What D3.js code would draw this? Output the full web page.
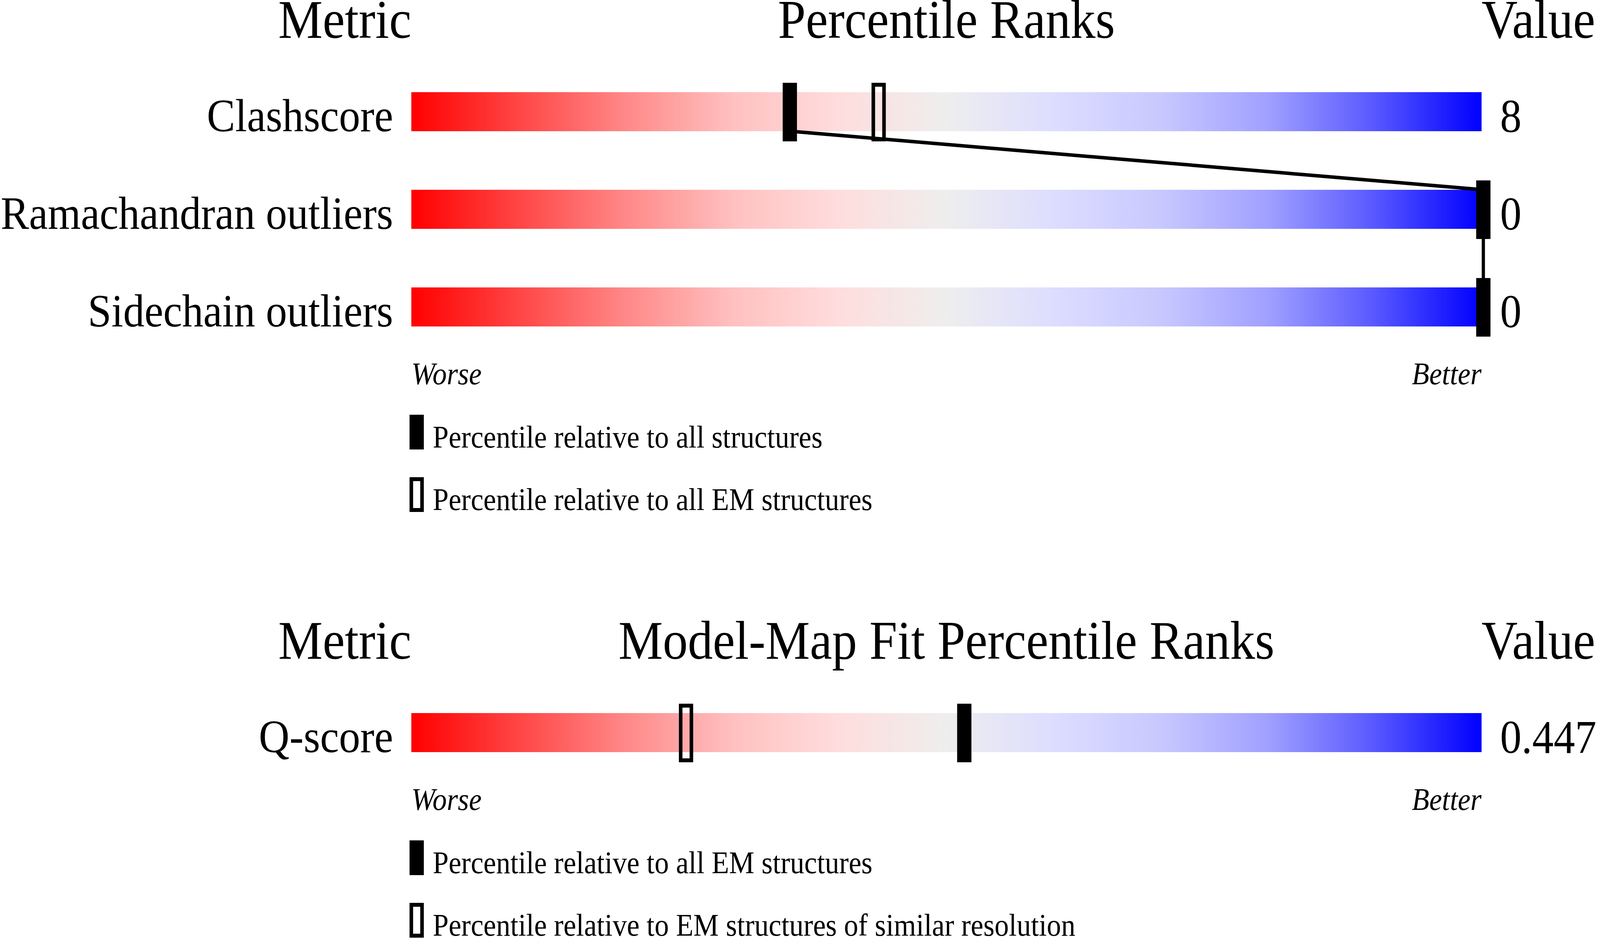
<!DOCTYPE html>
<html>
<head>
<meta charset="utf-8">
<script src="https://cdn.jsdelivr.net/npm/d3@7"></script>
<style>
  html, body { margin: 0; padding: 0; background: #fff; overflow: hidden; }
  svg { display: block; width: 100vw; height: 100vh; font-family: "Liberation Serif", "DejaVu Serif", serif; }
</style>
</head>
<body>
<svg id="chart" viewBox="0 0 4485 2402" preserveAspectRatio="none"></svg>
<script>
// geometry quality panel
const metrics = ["Clashscore", "Ramachandran outliers", "Sidechain outliers"];
const metricValues = ["8", "0", "0"];
const pctAll = [35.2, 100, 100];
const pctEM = [43.5, null, null];
const legendTop = ["Percentile relative to all structures", "Percentile relative to all EM structures"];

// model-map fit panel
const fitMetrics = ["Q-score"];
const fitValues = ["0.447"];
const fitPctAllEM = [51.5];
const fitPctSimilar = [25.5];
const legendFit = ["Percentile relative to all EM structures", "Percentile relative to EM structures of similar resolution"];

// gradient stops worse -> better
const gradOffsets = [0, 0.1, 0.2, 0.3, 0.4, 0.5, 0.6, 0.7, 0.8, 0.9, 1];
const gradColors = ["#ff0000", "#ff4545", "#ff8888", "#ffc0c0", "#ffdddd", "#eeeeee",
                    "#ddddff", "#c8c8ff", "#a0a0ff", "#5858ff", "#0000ff"];

const svg = d3.select("#chart");
const barLeft = 1153, barRight = 4153, barH = 100, rowStep = 250;
const markW = 40, markH = 150, markStroke = 10;

const x = d3.scaleLinear().domain([0, 100]).range([barLeft, barRight]);
// markers sit a few px right of the bar scale in the original
const mx = d3.scaleLinear().domain([0, 100]).range([barLeft + 5, barRight + 5]);

const grad = svg.append("defs").append("linearGradient")
  .attr("id", "rank")
  .attr("x1", "0%").attr("x2", "100%").attr("y1", "0%").attr("y2", "0%");
grad.selectAll("stop")
  .data(gradOffsets)
  .join("stop")
  .attr("offset", d => d)
  .attr("stop-color", (d, i) => gradColors[i]);

function drawPanel(top, title, names, vals, solid, open, legend) {
  const g = svg.append("g").attr("transform", `translate(0,${top})`);
  const y = d3.scaleLinear().domain([0, 1]).range([236, 236 + rowStep]);

  //headers
  g.append("text").attr("x", barLeft).attr("y", 97).attr("text-anchor", "end")
    .attr("font-size", 140).text("Metric");
  g.append("text").attr("x", (barLeft + barRight) / 2).attr("y", 97).attr("text-anchor", "middle")
    .attr("font-size", 140).text(title);
  g.append("text").attr("x", barRight).attr("y", 97)
    .attr("font-size", 140).text("Value");

  const rows = names.map((n, i) => ({ name: n, value: vals[i], solid: solid[i], open: open[i], i }));

  g.selectAll("rect.bar")
    .data(rows)
    .join("rect")
    .attr("class", "bar")
    .attr("x", x(0))
    .attr("y", d => y(d.i))
    .attr("width", x(100) - x(0))
    .attr("height", barH)
    .attr("fill", "url(#rank)");

  g.selectAll("text.name")
    .data(rows)
    .join("text")
    .attr("class", "name")
    .attr("x", barLeft - 51)
    .attr("y", d => y(d.i) + barH)
    .attr("text-anchor", "end")
    .attr("font-size", 119)
    .text(d => d.name);

  g.selectAll("text.val")
    .data(rows)
    .join("text")
    .attr("class", "val")
    .attr("x", barRight + 52)
    .attr("y", d => y(d.i) + barH + 2)
    .attr("font-size", 120)
    .text(d => d.value);

  // connecting line between the solid markers
  const pts = rows.filter(d => d.solid != null);
  for (let k = 1; k < pts.length; k++) {
    g.append("line")
      .attr("x1", mx(pts[k - 1].solid)).attr("y1", y(pts[k - 1].i) + barH)
      .attr("x2", mx(pts[k].solid)).attr("y2", y(pts[k].i))
      .attr("stroke", "#000").attr("stroke-width", 9);
  }

  g.selectAll("rect.open")
    .data(rows.filter(d => d.open != null))
    .join("rect")
    .attr("class", "open")
    .attr("x", d => mx(d.open) - markW / 2 + markStroke / 2)
    .attr("y", d => y(d.i) - 24 + markStroke / 2)
    .attr("width", markW - markStroke)
    .attr("height", markH - markStroke)
    .attr("fill", "none")
    .attr("stroke", "#000")
    .attr("stroke-width", markStroke);

  g.selectAll("rect.solid")
    .data(pts)
    .join("rect")
    .attr("class", "solid")
    .attr("x", d => mx(d.solid) - markW / 2)
    .attr("y", d => y(d.i) - 24)
    .attr("width", markW)
    .attr("height", markH)
    .attr("fill", "#000");

  const last = y(rows.length - 1) + barH;

  g.append("text").attr("x", barLeft).attr("y", last + 148)
    .attr("font-size", 80).attr("font-style", "italic").text("Worse");
  g.append("text").attr("x", barRight).attr("y", last + 148).attr("text-anchor", "end")
    .attr("font-size", 80).attr("font-style", "italic").text("Better");

  //legend
  const lg = g.selectAll("g.leg")
    .data(legend)
    .join("g")
    .attr("class", "leg")
    .attr("transform", (d, i) => `translate(${barLeft - 5},${last + 226 + i * 160})`);
  lg.append("rect")
    .attr("x", (d, i) => i === 0 ? 0 : markStroke / 2)
    .attr("y", (d, i) => i === 0 ? 0 : markStroke / 2)
    .attr("width", (d, i) => i === 0 ? markW : markW - markStroke)
    .attr("height", (d, i) => i === 0 ? 89 : 89 - markStroke)
    .attr("fill", (d, i) => i === 0 ? "#000" : "none")
    .attr("stroke", (d, i) => i === 0 ? "none" : "#000")
    .attr("stroke-width", markStroke);
  lg.append("text")
    .attr("x", 65)
    .attr("y", 84)
    .attr("font-size", 80)
    .text(d => d);
}

drawPanel(0, "Percentile Ranks", metrics, metricValues, pctAll, pctEM, legendTop);
drawPanel(1590, "Model-Map Fit Percentile Ranks", fitMetrics, fitValues, fitPctAllEM, fitPctSimilar, legendFit);
</script>
</body>
</html>
